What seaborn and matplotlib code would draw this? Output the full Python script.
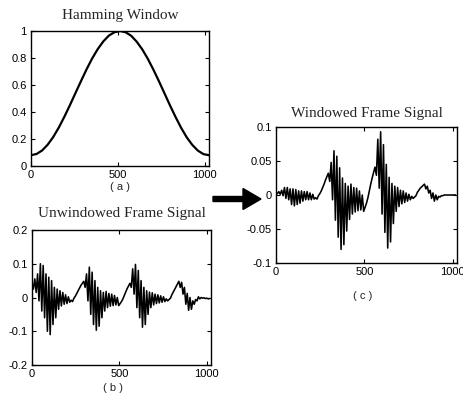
import matplotlib
matplotlib.use("Agg")
import matplotlib.pyplot as plt
import numpy as np
import pandas as pd
import seaborn as sns
from matplotlib.patches import FancyArrow

# ---------------- data ----------------
hamming_index = list(range(0, 1025, 32))
hamming_values = [0.080, 0.089, 0.115, 0.158, 0.215, 0.285, 0.365, 0.451,
                  0.541, 0.630, 0.717, 0.797, 0.866, 0.923, 0.966, 0.991,
                  1.000, 0.991, 0.965, 0.921, 0.864, 0.794, 0.714, 0.628,
                  0.538, 0.448, 0.362, 0.282, 0.212, 0.156, 0.114, 0.088,
                  0.080]

signal_index = list(range(0, 1024, 8))

unwindowed_values = [
    0.045, 0.025, 0.055, 0.015, 0.070, -0.010, 0.100, -0.040,
    0.095, -0.060, 0.070, -0.100, 0.060, -0.110, 0.050, -0.080,
    0.030, -0.060, 0.025, -0.035, 0.020, -0.025, 0.015, -0.020,
    0.008, -0.018, 0.002, -0.014, -0.008, -0.012, -0.002, 0.004,
    0.012, 0.020, 0.028, 0.036, 0.042, 0.048, 0.030, 0.070,
    -0.010, 0.090, -0.050, 0.075, -0.080, 0.050, -0.097, 0.030,
    -0.085, 0.020, -0.060, 0.015, -0.040, 0.018, -0.030, 0.012,
    -0.026, 0.010, -0.024, 0.006, -0.022, 0.000, -0.024, -0.018,
    -0.012, -0.004, 0.006, 0.016, 0.026, 0.034, 0.042, 0.030,
    0.085, 0.010, 0.098, -0.030, 0.080, -0.060, 0.050, -0.088,
    0.030, -0.080, 0.020, -0.050, 0.016, -0.030, 0.014, -0.022,
    0.010, -0.018, 0.008, -0.016, 0.005, -0.014, 0.002, -0.012,
    -0.004, -0.010, -0.006, -0.002, 0.008, 0.016, 0.024, 0.032,
    0.040, 0.048, 0.030, 0.045, 0.010, 0.030, -0.020, 0.012,
    -0.038, 0.000, -0.035, -0.010, -0.020, -0.006, -0.010, 0.002,
    -0.004, 0.000, -0.002, -0.001, -0.003, -0.002, -0.004, -0.003,
]

windowed_values = [
    0.004, 0.002, 0.005, 0.001, 0.007, -0.001, 0.011, -0.005,
    0.011, -0.007, 0.009, -0.014, 0.009, -0.016, 0.008, -0.014,
    0.006, -0.012, 0.006, -0.009, 0.005, -0.007, 0.005, -0.007,
    0.003, -0.007, 0.001, -0.006, -0.004, -0.006, -0.001, 0.002,
    0.006, 0.011, 0.016, 0.022, 0.027, 0.032, 0.020, 0.048,
    -0.007, 0.065, -0.037, 0.057, -0.062, 0.040, -0.080, 0.025,
    -0.073, 0.017, -0.053, 0.013, -0.036, 0.016, -0.028, 0.011,
    -0.025, 0.010, -0.023, 0.006, -0.022, 0.000, -0.024, -0.018,
    -0.012, -0.004, 0.006, 0.016, 0.025, 0.033, 0.041, 0.029,
    0.082, 0.010, 0.093, -0.028, 0.074, -0.055, 0.045, -0.078,
    0.026, -0.069, 0.017, -0.042, 0.013, -0.024, 0.011, -0.017,
    0.007, -0.013, 0.006, -0.011, 0.003, -0.009, 0.001, -0.007,
    -0.002, -0.005, -0.003, -0.001, 0.004, 0.007, 0.010, 0.012,
    0.014, 0.016, 0.009, 0.013, 0.003, 0.007, -0.005, 0.003,
    -0.009, 0.000, -0.007, -0.002, -0.003, -0.001, -0.001, 0.000,
    0.000, 0.000, 0.000, 0.000, 0.000, 0.000, 0.000, 0.000,
]

x_ticks = [0, 500, 1000]
x_tick_labels = ["0", "500", "1000"]
a_ticks = [0, 0.2, 0.4, 0.6, 0.8, 1.0]
a_tick_labels = ["0", "0.2", "0.4", "0.6", "0.8", "1"]
b_ticks = [-0.2, -0.1, 0, 0.1, 0.2]
b_tick_labels = ["-0.2", "-0.1", "0", "0.1", "0.2"]
c_ticks = [-0.1, -0.05, 0, 0.05, 0.1]
c_tick_labels = ["-0.1", "-0.05", "0", "0.05", "0.1"]

titles = ["Hamming Window", "Unwindowed Frame Signal", "Windowed Frame Signal"]
tags = ["( a )", "( b )", "( c )"]

# ---------------- style ----------------
sns.set_style("ticks")
plt.rcParams["font.family"] = ["Liberation Sans", "DejaVu Sans"]
plt.rcParams["axes.unicode_minus"] = False

W, H = 464, 401
fig = plt.figure(figsize=(W / 100, H / 100), dpi=100)


def box(l, t, r, b):
    return [l / W, 1 - b / H, (r - l) / W, (b - t) / H]


ax_a = fig.add_axes(box(31, 31, 209, 166))
ax_b = fig.add_axes(box(32, 230, 211, 365))
ax_c = fig.add_axes(box(276, 127, 457, 263))

ham_df = pd.DataFrame({"n": hamming_index, "w": hamming_values})
sig_df = pd.DataFrame({"n": signal_index, "u": unwindowed_values,
                       "v": windowed_values})

sns.lineplot(data=ham_df, x="n", y="w", ax=ax_a, color="black",
             linewidth=1.6, estimator=None)
sns.lineplot(data=sig_df, x="n", y="u", ax=ax_b, color="black",
             linewidth=1.15, estimator=None)
sns.lineplot(data=sig_df, x="n", y="v", ax=ax_c, color="black",
             linewidth=1.15, estimator=None)


def style(ax, yt, ytl, ylim, title, pad, tag, tagx, tagy):
    ax.set_xlim(0, 1024)
    ax.set_ylim(*ylim)
    ax.set_xticks(x_ticks)
    ax.set_xticklabels(x_tick_labels)
    ax.set_yticks(yt)
    ax.set_yticklabels(ytl)
    ax.set_xlabel("")
    ax.set_ylabel("")
    ax.tick_params(direction="in", top=True, right=True, length=3,
                   width=0.8, labelsize=8, pad=3, colors="black")
    for sp in ax.spines.values():
        sp.set_visible(True)
        sp.set_linewidth(1.0)
        sp.set_color("black")
    ax.set_title(title, fontsize=11, family=["Liberation Serif"], pad=pad)
    ax.text(tagx, tagy, tag, transform=ax.transAxes, ha="center",
            va="center", fontsize=8)


style(ax_a, a_ticks, a_tick_labels, (0, 1), titles[0], 9, tags[0], 0.5, -0.155)
style(ax_b, b_ticks, b_tick_labels, (-0.2, 0.2), titles[1], 9, tags[1], 0.45, -0.17)
style(ax_c, c_ticks, c_tick_labels, (-0.1, 0.1), titles[2], 7, tags[2], 0.48, -0.24)

arrow = FancyArrow(213 / W, 1 - 199 / H, (261 - 213) / W, 0,
                   width=5 / H, head_width=21 / H, head_length=18 / W,
                   length_includes_head=True, color="black",
                   transform=fig.transFigure)
fig.add_artist(arrow)

fig.savefig("out.png", dpi=100)
